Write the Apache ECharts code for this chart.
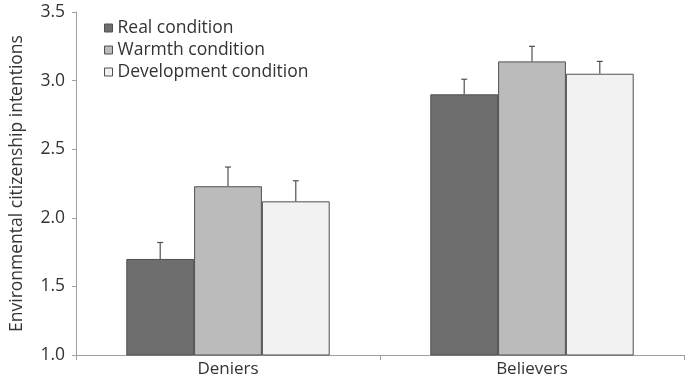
<!DOCTYPE html>
<html>
<head>
<meta charset="utf-8">
<script src="https://cdn.jsdelivr.net/npm/echarts@6/dist/echarts.min.js"></script>
<style>
  html, body { margin: 0; padding: 0; background: #fff; }
  #chart { width: 685px; height: 383px; }
</style>
</head>
<body>
<div id="chart"></div>
<script>
// 数据
const groups = ['Deniers', 'Believers']
const conditions = ['Real condition', 'Warmth condition', 'Development condition']
const realMeans = [1.70, 2.90]
const warmthMeans = [2.23, 3.14]
const developmentMeans = [2.12, 3.05]
const realUpper = [1.82, 3.01]
const warmthUpper = [2.37, 3.25]
const developmentUpper = [2.27, 3.14]
const yTicks = [1.0, 1.5, 2.0, 2.5, 3.0, 3.5]

const fills = ['#6e6e6e', '#bbbbbb', '#f2f2f2']
const barRatio = 0.223
const FONT = 'Open Sans'

const means = [realMeans, warmthMeans, developmentMeans]
const uppers = [realUpper, warmthUpper, developmentUpper]

// 误差线数据: [组索引, 条件索引, 均值, 上限]
const errData = []
means.forEach((m, s) => {
  m.forEach((v, g) => errData.push([g, s, v, uppers[s][g]]))
})

const chart = echarts.init(document.getElementById('chart'))

const barSeries = conditions.map((name, s) => ({
  name: name,
  type: 'bar',
  data: means[s],
  barWidth: (barRatio * 100) + '%',
  barGap: '0%',
  itemStyle: { color: fills[s], borderColor: '#505050', borderWidth: 1 },
  z: 2
}))

const errSeries = {
  type: 'custom',
  data: errData,
  z: 3,
  silent: true,
  renderItem: function (params, api) {
    const g = api.value(0)
    const s = api.value(1)
    const band = api.size([1, 0])[0]
    const bw = band * barRatio
    const x = api.coord([g, 0])[0] + (s - 1) * bw
    const yTop = api.coord([g, api.value(3)])[1]
    const yMid = api.coord([g, api.value(2)])[1]
    const cap = 3
    const style = { stroke: '#505050', lineWidth: 1.2 }
    return {
      type: 'group',
      children: [
        { type: 'line', shape: { x1: x, y1: yMid, x2: x, y2: yTop }, style: style },
        { type: 'line', shape: { x1: x - cap, y1: yTop, x2: x + cap, y2: yTop }, style: style }
      ]
    }
  }
}

chart.setOption({
  animation: false,
  textStyle: { fontFamily: FONT },
  grid: { left: 70, right: 1, top: 12, bottom: 28 },
  legend: {
    data: conditions.map(c => ({ name: c, icon: 'rect' })),
    orient: 'vertical',
    left: 99,
    top: 14,
    itemWidth: 8,
    itemHeight: 8,
    itemGap: 4,
    itemStyle: { borderColor: '#505050', borderWidth: 1 },
    textStyle: { fontFamily: FONT, fontSize: 17.5, color: '#333', lineHeight: 17 }
  },
  xAxis: {
    type: 'category',
    data: groups,
    axisLine: { lineStyle: { color: '#a0a0a0', width: 1 } },
    axisTick: { show: true, inside: false, length: 5, lineStyle: { color: '#a0a0a0' } },
    axisLabel: { fontFamily: FONT, fontSize: 17, color: '#333', margin: 6 }
  },
  yAxis: {
    type: 'value',
    min: yTicks[0],
    max: yTicks[yTicks.length - 1],
    interval: 0.5,
    name: 'Environmental citizenship intentions',
    nameLocation: 'middle',
    nameGap: 50,
    nameTextStyle: { fontFamily: FONT, fontSize: 17.5, color: '#333' },
    axisLine: { show: true, lineStyle: { color: '#a0a0a0', width: 1 } },
    axisTick: { show: true, length: 4, lineStyle: { color: '#a0a0a0' } },
    splitLine: { show: false },
    axisLabel: {
      fontFamily: FONT, fontSize: 17.5, color: '#333', margin: 11,
      formatter: v => v.toFixed(1)
    }
  },
  series: barSeries.concat([errSeries])
})
</script>
</body>
</html>
